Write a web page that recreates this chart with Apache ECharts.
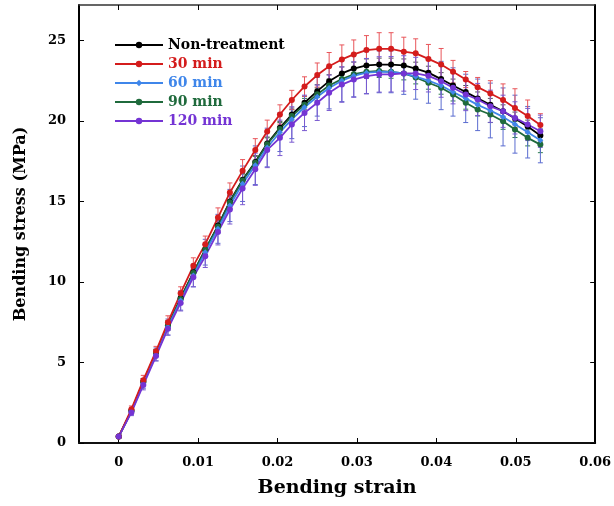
<!DOCTYPE html>
<html>
<head>
<meta charset="utf-8">
<script src="https://cdn.jsdelivr.net/npm/echarts@6/dist/echarts.min.js"></script>
<style>
html,body{margin:0;padding:0;background:#fff;}
#chart{width:614px;height:506px;}
</style>
</head>
<body>
<div id="chart"></div>
<script>
// ---- data ----
const strain = [0, 0.0016, 0.0031, 0.0047, 0.0062, 0.0078, 0.0094, 0.0109, 0.0125, 0.0140,
  0.0156, 0.0172, 0.0187, 0.0203, 0.0218, 0.0234, 0.0250, 0.0265, 0.0281, 0.0296,
  0.0312, 0.0328, 0.0343, 0.0359, 0.0374, 0.0390, 0.0406, 0.0421, 0.0437, 0.0452,
  0.0468, 0.0484, 0.0499, 0.0515, 0.0531];

const seriesNames = ['Non-treatment', '30 min', '60 min', '90 min', '120 min'];

const stressNon = [0.4, 2.0, 3.8, 5.6, 7.3, 9.0, 10.6, 12.0, 13.5, 15.0,
  16.35, 17.45, 18.6, 19.57, 20.4, 21.13, 21.85, 22.47, 22.95, 23.25,
  23.45, 23.5, 23.5, 23.45, 23.25, 23.0, 22.6, 22.2, 21.8, 21.4,
  21.0, 20.6, 20.15, 19.65, 19.1];
const stress30 = [0.4, 2.1, 3.9, 5.7, 7.5, 9.3, 11.0, 12.35, 14.0, 15.55,
  16.9, 18.2, 19.35, 20.4, 21.3, 22.14, 22.85, 23.4, 23.82, 24.13,
  24.4, 24.48, 24.48, 24.3, 24.2, 23.85, 23.5, 23.06, 22.57, 22.1,
  21.7, 21.3, 20.8, 20.3, 19.75];
const stress60 = [0.4, 1.95, 3.7, 5.5, 7.2, 8.85, 10.4, 11.85, 13.3, 14.75,
  16.1, 17.25, 18.35, 19.3, 20.1, 20.85, 21.5, 22.05, 22.5, 22.8,
  23.0, 23.05, 23.05, 22.95, 22.75, 22.5, 22.2, 21.8, 21.4, 21.0,
  20.65, 20.25, 19.8, 19.3, 18.8];
const stress90 = [0.4, 2.0, 3.8, 5.6, 7.3, 8.95, 10.55, 12.0, 13.45, 14.95,
  16.3, 17.4, 18.55, 19.5, 20.3, 21.0, 21.65, 22.2, 22.6, 22.9,
  23.05, 23.1, 23.05, 22.95, 22.7, 22.37, 22.06, 21.64, 21.13, 20.71,
  20.4, 19.98, 19.47, 18.95, 18.53];
const stress120 = [0.4, 1.9, 3.6, 5.4, 7.1, 8.7, 10.3, 11.6, 13.1, 14.5,
  15.8, 17.0, 18.2, 18.95, 19.78, 20.5, 21.13, 21.75, 22.26, 22.57,
  22.78, 22.89, 22.9, 22.95, 22.95, 22.8, 22.47, 22.06, 21.64, 21.33,
  20.91, 20.6, 20.19, 19.78, 19.36];

const errNon = [0.1, 0.1, 0.2, 0.2, 0.2, 0.3, 0.3, 0.3, 0.3, 0.4,
  0.4, 0.4, 0.4, 0.4, 0.4, 0.4, 0.4, 0.4, 0.4, 0.4,
  0.4, 0.4, 0.4, 0.4, 0.4, 0.4, 0.4, 0.4, 0.4, 0.4,
  0.4, 0.4, 0.4, 0.4, 0.4];
const err30 = [0.1, 0.2, 0.3, 0.3, 0.4, 0.4, 0.5, 0.5, 0.6, 0.6,
  0.7, 0.7, 0.7, 0.6, 0.6, 0.6, 0.75, 0.85, 0.9, 0.9,
  0.9, 1.0, 1.0, 0.9, 0.9, 0.9, 1.0, 0.7, 0.5, 0.6,
  0.8, 1.0, 1.2, 1.0, 0.7];
const err60 = [0.1, 0.2, 0.3, 0.4, 0.5, 0.6, 0.7, 0.8, 0.9, 1.0,
  1.1, 1.2, 1.2, 1.2, 1.2, 1.2, 1.2, 1.3, 1.3, 1.3,
  1.3, 1.3, 1.3, 1.3, 1.4, 1.4, 1.5, 1.5, 1.5, 1.6,
  1.7, 1.8, 1.8, 1.6, 1.4];
const err90 = [0.1, 0.1, 0.2, 0.2, 0.3, 0.3, 0.3, 0.3, 0.4, 0.4,
  0.4, 0.4, 0.4, 0.4, 0.4, 0.4, 0.4, 0.4, 0.4, 0.4,
  0.4, 0.4, 0.4, 0.4, 0.4, 0.4, 0.4, 0.4, 0.4, 0.4,
  0.5, 0.5, 0.5, 0.5, 0.5];
const err120 = [0.1, 0.2, 0.3, 0.3, 0.4, 0.5, 0.6, 0.7, 0.8, 0.9,
  1.0, 1.0, 1.1, 1.1, 1.1, 1.1, 1.1, 1.1, 1.1, 1.1,
  1.1, 1.1, 1.1, 1.1, 1.0, 1.0, 1.0, 1.0, 1.0, 1.0,
  1.0, 1.0, 1.0, 1.0, 1.0];

const xTickValues = [0, 0.01, 0.02, 0.03, 0.04, 0.05, 0.06];
const yTickValues = [0, 5, 10, 15, 20, 25];

// ---- styling ----
const FONT = '"DejaVu Serif", "Liberation Serif", serif';
const lineColors = ['#000000', '#d41c1c', '#3f86ea', '#1f6a3c', '#7434d4'];
const barColors = ['#555555', '#e8555a', '#5a6cd0', '#2e7d4f', '#7a5ad0'];
const stresses = [stressNon, stress30, stress60, stress90, stress120];
const errs = [errNon, err30, err60, err90, err120];
const symbols = ['circle', 'circle', 'diamond', 'circle', 'circle'];

function pairs(ys) { return strain.map((x, i) => [x, ys[i]]); }
function errData(ys, es) { return strain.map((x, i) => [x, ys[i] - es[i], ys[i] + es[i]]); }

function errSeries(idx) {
  const color = barColors[idx];
  return {
    type: 'custom',
    name: 'err' + idx,
    silent: true,
    z: 1,
    data: errData(stresses[idx], errs[idx]),
    encode: { x: 0, y: [1, 2] },
    renderItem: function (params, api) {
      const x = api.value(0);
      const lo = api.coord([x, api.value(1)]);
      const hi = api.coord([x, api.value(2)]);
      const w = 2.5;
      const st = { stroke: color, lineWidth: 1 };
      return {
        type: 'group',
        children: [
          { type: 'line', shape: { x1: hi[0], y1: hi[1], x2: lo[0], y2: lo[1] }, style: st },
          { type: 'line', shape: { x1: hi[0] - w, y1: hi[1], x2: hi[0] + w, y2: hi[1] }, style: st },
          { type: 'line', shape: { x1: lo[0] - w, y1: lo[1], x2: lo[0] + w, y2: lo[1] }, style: st }
        ]
      };
    }
  };
}

function lineSeries(idx) {
  return {
    type: 'line',
    name: seriesNames[idx],
    data: pairs(stresses[idx]),
    z: 3,
    symbol: symbols[idx],
    symbolSize: 6,
    showAllSymbol: true,
    lineStyle: { color: lineColors[idx], width: 1.8 },
    itemStyle: { color: lineColors[idx] }
  };
}

const order = [0, 3, 2, 1, 4];
const series = [];
order.forEach(i => series.push(errSeries(i)));
order.forEach(i => series.push(lineSeries(i)));

const chart = echarts.init(document.getElementById('chart'), null, { renderer: 'canvas' });
chart.setOption({
  animation: false,
  backgroundColor: '#ffffff',
  grid: { left: 79, right: 15, top: 5, bottom: 63, containLabel: false },
  legend: {
    orient: 'vertical',
    left: 109,
    top: 33,
    itemWidth: 48,
    itemHeight: 8,
    itemGap: 5,
    textStyle: { fontFamily: FONT, fontWeight: 'bold', fontSize: 14 },
    data: seriesNames.map((n, i) => ({ name: n, textStyle: { color: lineColors[i] } }))
  },
  xAxis: [{
    type: 'value', min: -0.005, max: 0.06, position: 'bottom',
    name: 'Bending strain', nameLocation: 'middle', nameGap: 36,
    nameTextStyle: { fontFamily: FONT, fontWeight: 'bold', fontSize: 19, color: '#000' },
    axisLine: { show: true, onZero: false, lineStyle: { color: '#111', width: 2 } },
    axisTick: { show: true, inside: true, length: 5, customValues: xTickValues, lineStyle: { color: '#000' } },
    axisLabel: { customValues: xTickValues, margin: 13, fontFamily: FONT, fontWeight: 'bold', fontSize: 13, color: '#000' },
    splitLine: { show: false }
  }, {
    type: 'value', min: -0.005, max: 0.06, position: 'top',
    axisLine: { show: true, onZero: false, lineStyle: { color: '#333', width: 1.5 } },
    axisTick: { show: true, inside: true, length: 5, customValues: xTickValues, lineStyle: { color: '#000' } },
    axisLabel: { show: false },
    splitLine: { show: false }
  }],
  yAxis: [{
    type: 'value', min: 0, max: 27.2, position: 'left',
    name: 'Bending stress (MPa)', nameLocation: 'middle', nameGap: 50,
    nameTextStyle: { fontFamily: FONT, fontWeight: 'bold', fontSize: 16, color: '#000' },
    axisLine: { show: true, onZero: false, lineStyle: { color: '#000', width: 2 } },
    axisTick: { show: true, inside: true, length: 5, customValues: yTickValues, lineStyle: { color: '#000' } },
    axisLabel: { customValues: yTickValues, margin: 13, fontFamily: FONT, fontWeight: 'bold', fontSize: 13, color: '#000' },
    splitLine: { show: false }
  }, {
    type: 'value', min: 0, max: 27.2, position: 'right',
    axisLine: { show: true, onZero: false, lineStyle: { color: '#000', width: 2 } },
    axisTick: { show: true, inside: true, length: 5, customValues: yTickValues, lineStyle: { color: '#000' } },
    axisLabel: { show: false },
    splitLine: { show: false }
  }],
  series: series
});
</script>
</body>
</html>
